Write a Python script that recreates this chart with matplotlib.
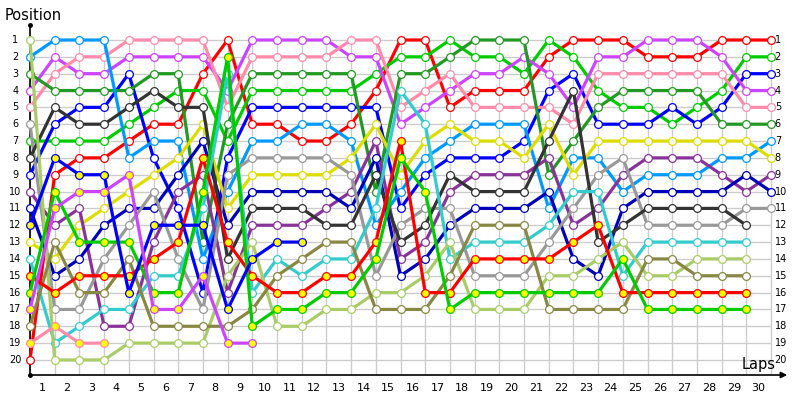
import matplotlib.pyplot as plt

laps = list(range(31))
lap_labels = [str(k) for k in range(1, 31)]
positions = list(range(1, 21))

# positions per lap (lap 0 = grid); shorter lists = lapped / retired
red = [20, 9, 8, 8, 7, 6, 6, 3, 1, 6, 6, 7, 7, 6, 4, 1, 1, 5, 4, 4, 4, 2, 1, 1, 1, 2, 2, 2, 1, 1, 1]
green = [7, 7, 7, 7, 6, 5, 4, 4, 7, 4, 4, 4, 4, 4, 3, 2, 2, 1, 2, 2, 3, 1, 2, 4, 5, 5, 6, 5, 4, 2, 2]
blue = [9, 6, 5, 5, 3, 8, 11, 16, 8, 5, 5, 5, 5, 5, 5, 11, 9, 8, 8, 8, 7, 4, 3, 6, 6, 6, 5, 6, 5, 3, 3]
violet = [4, 2, 3, 3, 2, 2, 2, 2, 4, 1, 1, 1, 1, 2, 2, 6, 5, 4, 3, 3, 2, 3, 5, 2, 2, 1, 1, 1, 2, 4, 4]
pink = [5, 3, 2, 2, 1, 1, 1, 1, 5, 2, 2, 2, 2, 1, 1, 5, 4, 3, 5, 5, 5, 5, 6, 3, 3, 3, 3, 3, 3, 5, 5]
dark_green = [3, 4, 4, 4, 4, 3, 3, 13, 6, 3, 3, 3, 3, 3, 10, 3, 3, 2, 1, 1, 1, 9, 7, 5, 4, 4, 4, 4, 6, 6, 6]
sky = [2, 1, 1, 1, 8, 7, 7, 14, 10, 7, 7, 6, 6, 7, 12, 10, 8, 7, 6, 6, 6, 11, 8, 8, 10, 9, 9, 9, 8, 8, 7]
yellow = [13, 14, 12, 11, 10, 9, 8, 6, 11, 9, 9, 9, 9, 8, 6, 9, 7, 6, 7, 7, 8, 6, 9, 7, 7, 7, 7, 7, 7, 7, 8]
plum = [10, 12, 11, 18, 18, 13, 10, 9, 16, 12, 12, 12, 11, 10, 7, 14, 13, 10, 9, 9, 9, 8, 12, 11, 9, 8, 8, 8, 9, 10, 9]
navy = [11, 15, 14, 12, 11, 11, 9, 7, 12, 10, 10, 10, 10, 11, 8, 15, 14, 12, 11, 11, 11, 10, 14, 15, 11, 10, 10, 10, 10, 9, 10]
gray = [6, 17, 17, 14, 12, 10, 14, 17, 9, 8, 8, 8, 8, 9, 15, 12, 11, 11, 15, 15, 15, 13, 11, 9, 8, 12, 12, 12, 12, 11, 11]
charcoal = [8, 5, 6, 6, 5, 4, 5, 5, 14, 11, 11, 11, 12, 12, 9, 13, 12, 9, 10, 10, 10, 7, 4, 13, 12, 11, 11, 11, 11, 12]
cyan = [14, 19, 18, 17, 17, 15, 15, 11, 3, 16, 14, 15, 14, 14, 11, 4, 6, 14, 13, 13, 13, 12, 10, 10, 15, 13, 13, 13, 13, 13]
lime = [1, 20, 20, 20, 19, 19, 19, 19, 15, 13, 18, 18, 17, 17, 16, 16, 15, 13, 17, 17, 17, 15, 15, 14, 13, 15, 15, 14, 14, 14]
olive = [18, 13, 16, 16, 14, 18, 18, 18, 18, 17, 15, 14, 13, 13, 17, 17, 17, 15, 12, 12, 12, 17, 17, 17, 17, 14, 14, 15, 15, 15]
red2 = [15, 16, 15, 15, 15, 14, 13, 8, 13, 15, 16, 16, 15, 15, 13, 7, 16, 16, 14, 14, 14, 14, 13, 12, 16, 16, 16, 16, 16, 16]
green2 = [16, 10, 13, 13, 13, 16, 16, 10, 2, 18, 17, 17, 16, 16, 14, 8, 10, 17, 16, 16, 16, 16, 16, 16, 14, 17, 17, 17, 17, 17]
blue2 = [12, 8, 9, 9, 16, 12, 12, 12, 17, 14, 13, 13]
violet2 = [17, 11, 10, 10, 9, 17, 17, 15, 19, 19]
pink2 = [19, 18, 19, 19]

series = [
    (red, '#ff0000', 'white'),
    (green, '#00cc00', 'white'),
    (blue, '#0000ff', 'white'),
    (violet, '#cc44ff', 'white'),
    (pink, '#ff8aaa', 'white'),
    (dark_green, '#229922', 'white'),
    (sky, '#0099ff', 'white'),
    (yellow, '#dddd00', 'white'),
    (plum, '#883399', 'white'),
    (navy, '#0000bb', 'white'),
    (gray, '#999999', 'white'),
    (charcoal, '#333333', 'white'),
    (cyan, '#33cccc', 'white'),
    (lime, '#aacc66', 'white'),
    (olive, '#888844', 'white'),
    (red2, '#ff0000', '#ffff00'),
    (green2, '#00cc00', '#ffff00'),
    (blue2, '#0000ff', '#ffff00'),
    (violet2, '#cc44ff', '#ffff00'),
    (pink2, '#ff8aaa', '#ffff00'),
]

fig = plt.figure(figsize=(8, 4), dpi=100)
ax = fig.add_axes([30 / 800, 25 / 400, 760 / 800, 350 / 400])
step = 24.7
ax.set_xlim(0, 760 / step)
ax.set_ylim(1 + 335 / 16.84, 1 - 15 / 16.84)
ax.axis('off')

# grid
ax.vlines(laps, 0.7, 1 + 335 / 16.84, color='#cccccc', lw=1, zorder=0)
ax.hlines(positions, 0, 30, color='#cccccc', lw=1, zorder=0)

for i, (pos, col, face) in enumerate(series):
    ax.plot(laps[:len(pos)], pos, color=col, lw=2.3, marker='o', ms=5.6,
            mfc=face, mec=col, mew=0.9, zorder=2 + i * 0.01, clip_on=False)

# axes lines
ax.plot([0, 0], [1 + 335 / 16.84, 1 - 15 / 16.84], color='black', lw=1.2, zorder=1, clip_on=False)
ax.plot([0], [1 - 15 / 16.84], 'ko', ms=2.5, clip_on=False)
ax.plot([0], [1 + 335 / 16.84], 'ko', ms=2.5, clip_on=False)
ax.annotate('', xy=(1.0, 0), xytext=(0, 0), xycoords='axes fraction',
            arrowprops=dict(arrowstyle='-|>', color='black', lw=1.2, mutation_scale=9))

for p in positions:
    ax.text(-0.6, p, str(p), ha='center', va='center', fontsize=7, clip_on=False)
    ax.text(30.15, p, str(p), ha='left', va='center', fontsize=7, clip_on=False)
for k, lab in enumerate(lap_labels, start=1):
    ax.text(k - 0.5, 1 + 348 / 16.84, lab, ha='center', va='center', fontsize=8, clip_on=False)

fig.text(5 / 800, 1 - 15 / 400, 'Position', ha='left', va='center', fontsize=10.5)
fig.text(742 / 800, 1 - 365 / 400, 'Laps', ha='left', va='center', fontsize=10.5)

fig.savefig('out.png', dpi=100)
